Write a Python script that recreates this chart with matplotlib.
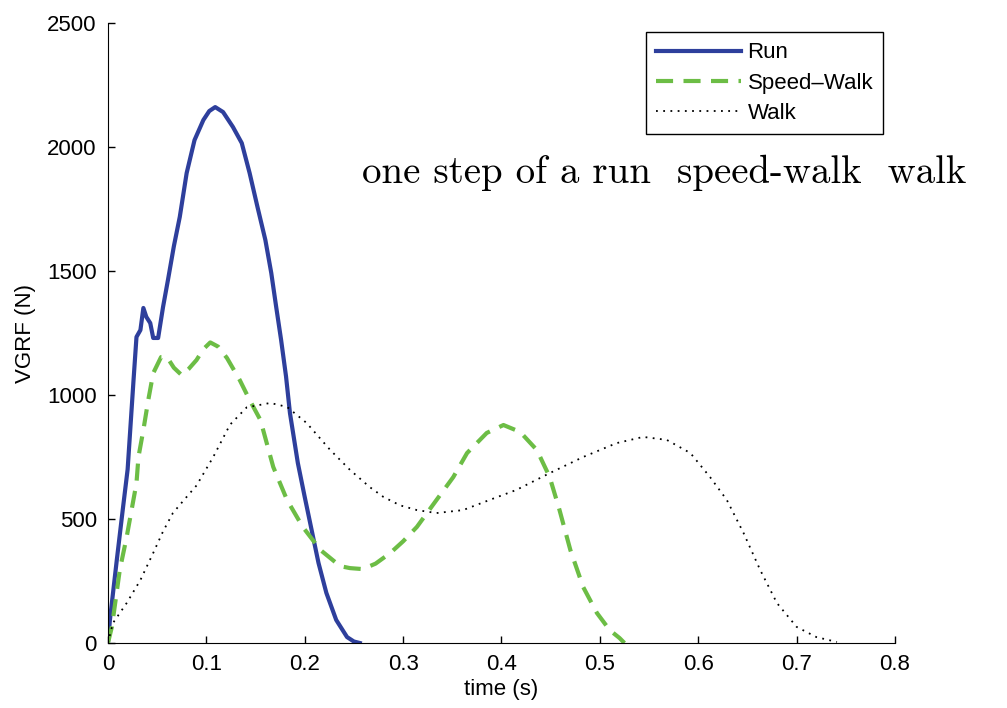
import matplotlib
matplotlib.use("Agg")
import matplotlib.pyplot as plt

# VGRF traces (time in s, force in N)
run_t = [0.0, 0.002, 0.009, 0.015, 0.02, 0.026, 0.029, 0.033, 0.036, 0.039, 0.043,
         0.046, 0.051, 0.056, 0.061, 0.067, 0.073, 0.08, 0.088, 0.097, 0.103,
         0.109, 0.117, 0.127, 0.136, 0.144, 0.152, 0.16, 0.166, 0.171, 0.176,
         0.181, 0.185, 0.193, 0.2, 0.207, 0.214, 0.222, 0.232, 0.243, 0.25, 0.256]
run_f = [0, 93, 335, 536, 700, 1060, 1234, 1262, 1351, 1315, 1290,
         1230, 1230, 1355, 1464, 1600, 1718, 1895, 2028, 2109, 2145,
         2161, 2141, 2081, 2016, 1895, 1758, 1625, 1492, 1355, 1222,
         1075, 927, 726, 589, 456, 323, 202, 93, 24, 6, 0]

sw_t = [0.0, 0.004, 0.012, 0.019, 0.024, 0.029, 0.031, 0.036, 0.041, 0.046, 0.054,
        0.06, 0.067, 0.075, 0.082, 0.09, 0.097, 0.104, 0.112, 0.121,
        0.134, 0.144, 0.155, 0.168, 0.182, 0.198, 0.216, 0.236, 0.246, 0.259, 0.272,
        0.287, 0.3, 0.314, 0.334, 0.351, 0.365, 0.385, 0.402, 0.419, 0.436, 0.449,
        0.459, 0.47, 0.483, 0.497, 0.51, 0.52, 0.525]
sw_f = [0, 65, 294, 427, 536, 645, 750, 859, 980, 1088, 1153,
        1153, 1110, 1080, 1105, 1141, 1185, 1212, 1195, 1149,
        1060, 980, 899, 710, 577, 468, 375, 310, 302, 298, 320,
        363, 410, 468, 577, 669, 766, 847, 879, 851, 778, 669,
        536, 375, 226, 121, 52, 20, 0]

walk_t = [0.0, 0.005, 0.019, 0.033, 0.046, 0.056, 0.066, 0.078, 0.09, 0.107, 0.124, 0.141,
          0.165, 0.182, 0.202, 0.226, 0.246, 0.266, 0.28, 0.297, 0.314, 0.334,
          0.361, 0.388, 0.415, 0.449, 0.483, 0.517, 0.544, 0.568, 0.592, 0.612,
          0.629, 0.646, 0.663, 0.68, 0.7, 0.72, 0.741]
walk_f = [0, 80, 161, 254, 363, 450, 524, 580, 635, 750, 880, 950,
          968, 952, 887, 778, 698, 629, 589, 555, 536, 524,
          536, 577, 617, 685, 750, 806, 831, 819, 766, 669,
          577, 444, 294, 161, 65, 24, 4]

x_ticks = [0, 0.1, 0.2, 0.3, 0.4, 0.5, 0.6, 0.7, 0.8]
x_labels = ["0", "0.1", "0.2", "0.3", "0.4", "0.5", "0.6", "0.7", "0.8"]
y_ticks = [0, 500, 1000, 1500, 2000, 2500]

plt.rcParams["font.family"] = ["Liberation Sans", "DejaVu Sans"]

fig = plt.figure(figsize=(10.07, 7.08), dpi=100)
ax = fig.add_axes([0.1072, 0.0918, 0.7816, 0.8757])

ax.plot(run_t, run_f, color="#2e3f9c", lw=3.0, label="Run")
ax.plot(sw_t, sw_f, color="#6cbd45", lw=3.0, ls=(0, (4.1, 2.5)), label="Speed\u2013Walk")
ax.plot(walk_t, walk_f, color="black", lw=1.3, ls=(0, (1, 3)), label="Walk")

ax.set_xlim(0, 0.8)
ax.set_ylim(0, 2500)
ax.set_xticks(x_ticks)
ax.set_xticklabels(x_labels)
ax.set_yticks(y_ticks)
ax.tick_params(direction="in", length=5, width=1, labelsize=16, pad=8)
ax.spines["top"].set_visible(False)
ax.spines["right"].set_visible(False)

ax.set_xlabel("time (s)", fontsize=16, labelpad=3)
ax.set_ylabel("VGRF (N)", fontsize=16, labelpad=8)

leg = ax.legend(loc="upper right", bbox_to_anchor=(0.985, 0.985), fontsize=16,
                fancybox=False, edgecolor="black", framealpha=1, handlelength=3.8,
                borderpad=0.45, labelspacing=0.42, handletextpad=0.3,
                borderaxespad=0)
leg.get_frame().set_linewidth(1.0)

fig.text(0.3595, 0.741, "one step of a run  speed-walk  walk", fontsize=28,
         family="cmr10", ha="left", va="baseline")

fig.savefig("out.png", dpi=100)
